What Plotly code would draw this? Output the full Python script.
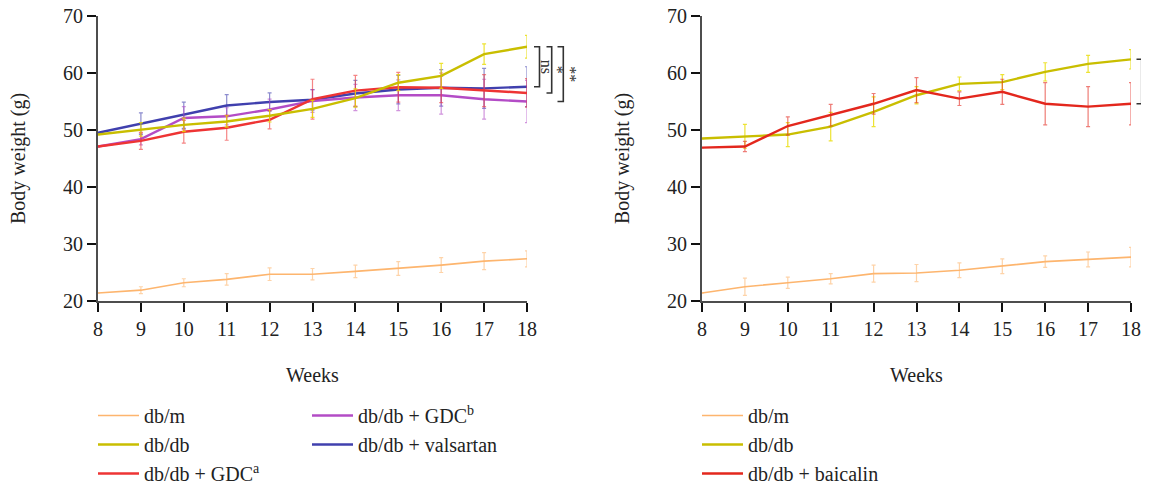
import plotly.graph_objects as go

weeks = [8, 9, 10, 11, 12, 13, 14, 15, 16, 17, 18]

# Left panel
dbm_L = [21.4, 21.9, 23.2, 23.8, 24.7, 24.7, 25.2, 25.7, 26.3, 27.0, 27.4]
dbm_L_err = [0, 0.6, 0.7, 1.0, 1.1, 1.0, 1.1, 1.2, 1.3, 1.5, 1.4]
dbdb_L = [49.2, 50.1, 50.9, 51.5, 52.5, 53.7, 55.6, 58.3, 59.5, 63.3, 64.6]
dbdb_L_err = [0, 1.2, 1.2, 1.0, 1.1, 1.5, 1.6, 1.4, 2.2, 1.8, 2.0]
gdca = [47.1, 48.1, 49.7, 50.4, 51.8, 55.4, 56.9, 57.5, 57.4, 56.9, 56.5]
gdca_err = [0, 1.5, 2.0, 2.2, 1.6, 3.5, 2.7, 2.6, 2.6, 2.8, 2.5]
gdcb = [47.1, 48.4, 52.1, 52.4, 53.6, 55.1, 55.7, 56.1, 56.1, 55.4, 55.0]
gdcb_err = [0, 1.0, 2.0, 1.5, 1.8, 2.0, 2.3, 2.7, 3.3, 3.5, 3.7]
vals = [49.5, 51.1, 52.6, 54.3, 54.9, 55.3, 56.4, 57.1, 57.4, 57.3, 57.6]
vals_err = [0, 1.9, 2.3, 1.9, 1.6, 1.8, 2.3, 2.5, 3.2, 3.5, 3.5]

# Right panel
dbm_R = [21.4, 22.5, 23.2, 23.9, 24.8, 24.9, 25.4, 26.1, 26.9, 27.3, 27.7]
dbm_R_err = [0, 1.5, 1.0, 0.9, 1.5, 1.5, 1.3, 1.3, 1.0, 1.3, 1.7]
dbdb_R = [48.5, 48.9, 49.2, 50.6, 53.2, 56.1, 58.1, 58.4, 60.2, 61.6, 62.4]
dbdb_R_err = [0, 2.1, 2.1, 2.5, 2.6, 1.5, 1.2, 1.3, 1.6, 1.5, 1.7]
baic = [46.9, 47.1, 50.7, 52.6, 54.6, 57.0, 55.5, 56.7, 54.6, 54.1, 54.6]
baic_err = [0, 0.9, 1.6, 1.9, 1.8, 2.2, 1.2, 2.2, 3.7, 3.5, 3.7]

y_ticks = [20, 30, 40, 50, 60, 70]

FONT = "Liberation Serif, Times New Roman, serif"

C_DBM = "#FDB56E"
C_DBDB = "#C9BE00"
C_GDCA = "#EE3434"
C_GDCB = "#B34CC6"
C_VALS = "#4040AE"
C_BAIC = "#E3271D"


def rgba(hexc, a):
    h = hexc.lstrip("#")
    r, g, b = int(h[0:2], 16), int(h[2:4], 16), int(h[4:6], 16)
    return f"rgba({r},{g},{b},{a})"


fig = go.Figure()


def add(x, y, err, name, color, width, xa, ya, legend, rank, ecol=None):
    fig.add_trace(go.Scatter(
        x=x, y=y, name=name, mode="lines",
        line=dict(color=color, width=width),
        error_y=dict(type="data", array=err, visible=True,
                     color=ecol or rgba(color, 0.6), thickness=1.2, width=2),
        xaxis=xa, yaxis=ya, legend=legend, legendrank=rank,
    ))


# left panel (draw order: db/db on top)
add(weeks, dbm_L, dbm_L_err, "db/m", C_DBM, 1.6, "x", "y", "legend", 1)
add(weeks, vals, vals_err, "db/db + valsartan", C_VALS, 2.4, "x", "y", "legend2", 2)
add(weeks, gdcb, gdcb_err, "db/db + GDC<sup>b</sup>", C_GDCB, 2.4, "x", "y", "legend2", 1)
add(weeks, gdca, gdca_err, "db/db + GDC<sup>a</sup>", C_GDCA, 2.4, "x", "y", "legend", 3)
add(weeks, dbdb_L, dbdb_L_err, "db/db", C_DBDB, 2.4, "x", "y", "legend", 2,
    ecol=rgba("#E8DC00", 0.8))

# right panel
add(weeks, dbm_R, dbm_R_err, "db/m", C_DBM, 1.6, "x2", "y2", "legend3", 1)
add(weeks, dbdb_R, dbdb_R_err, "db/db", C_DBDB, 2.4, "x2", "y2", "legend3", 2,
    ecol=rgba("#E8DC00", 0.8))
add(weeks, baic, baic_err, "db/db + baicalin", C_BAIC, 2.4, "x2", "y2", "legend3", 3)

# page body has an 8px margin: the figure is drawn 8px in from the top-left
OFF = 8
W, H = 1149 - OFF, 490 - OFF


def px_x(p):
    return (p - OFF) / W


def px_y(p):
    return 1 - (p - OFF) / H


axis_common = dict(
    showline=True, linecolor="#4d4d4d", linewidth=2,
    ticks="outside", ticklen=9, tickwidth=2, tickcolor="#111111",
    showgrid=False, zeroline=False, automargin=False,
    ticklabeloverflow="allow",
    tickfont=dict(family=FONT, size=20, color="#222222"),
)

legend_common = dict(xanchor="left", yanchor="top",
                     font=dict(family=FONT, size=20, color="#222"), itemwidth=41,
                     bgcolor="rgba(0,0,0,0)", traceorder="normal")

fig.update_layout(
    width=W, height=H,
    margin=dict(l=0, r=0, t=0, b=0, autoexpand=False),
    paper_bgcolor="white", plot_bgcolor="white",
    xaxis=dict(domain=[px_x(98), px_x(527)], range=[8, 18], tickmode="array",
               tickvals=weeks, anchor="y", **axis_common),
    yaxis=dict(domain=[px_y(301), px_y(16)], range=[20, 70], tickmode="array",
               tickvals=y_ticks, anchor="x", **axis_common),
    xaxis2=dict(domain=[px_x(702), px_x(1131)], range=[8, 18], tickmode="array",
                tickvals=weeks, anchor="y2", **axis_common),
    yaxis2=dict(domain=[px_y(301), px_y(16)], range=[20, 70], tickmode="array",
                tickvals=y_ticks, anchor="x2", **axis_common),
    legend=dict(x=px_x(93), y=px_y(396), **legend_common),
    legend2=dict(x=px_x(307), y=px_y(396), **legend_common),
    legend3=dict(x=px_x(697), y=px_y(396), **legend_common),
    showlegend=True,
)

# axis titles
title_font = dict(family=FONT, size=20, color="#222222")
for xc in (18.5, 622.5):
    fig.add_annotation(text="Body weight (g)", x=px_x(xc), y=px_y(158.5),
                       xref="paper", yref="paper", textangle=-90,
                       showarrow=False, font=title_font,
                       xanchor="center", yanchor="middle")
for xc in (312.5, 916.5):
    fig.add_annotation(text="Weeks", x=px_x(xc), y=px_y(375),
                       xref="paper", yref="paper", showarrow=False,
                       font=title_font, xanchor="center", yanchor="middle")


# significance brackets
def bracket(x_arm, x_v, y1, y2, yref, label, x_lab, size=16):
    fig.add_shape(type="path",
                  path=f"M {px_x(x_arm)},{y1} L {px_x(x_v)},{y1} L {px_x(x_v)},{y2} L {px_x(x_arm)},{y2}",
                  xref="paper", yref=yref, line=dict(color="#333333", width=1.6))
    fig.add_annotation(text=label, x=px_x(x_lab), y=(y1 + y2) / 2, xref="paper",
                       yref=yref, showarrow=False, textangle=90,
                       font=dict(family=FONT, size=size, color="#333333"),
                       xanchor="center", yanchor="middle")


bracket(534, 539.5, dbdb_L[-1], vals[-1], "y", "ns", 546)
bracket(546.5, 551.7, dbdb_L[-1], gdca[-1], "y", "*", 557)
bracket(557.5, 563.3, dbdb_L[-1], gdcb[-1], "y", "**", 571)
bracket(1136.5, 1141.7, dbdb_R[-1], baic[-1], "y2", "*", 1144.5, 14)

fig.write_html("out.html")
